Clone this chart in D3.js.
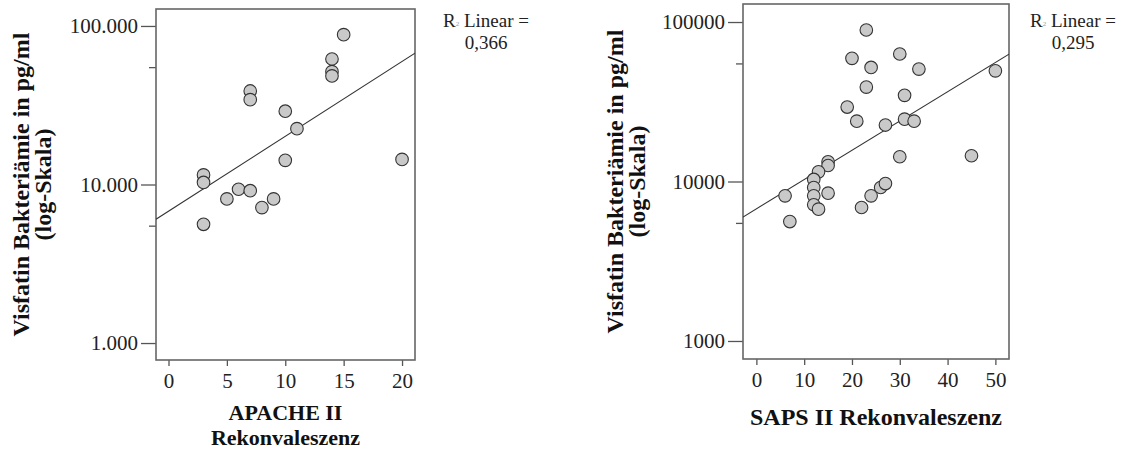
<!DOCTYPE html>
<html>
<head>
<meta charset="utf-8">
<script src="https://cdn.jsdelivr.net/npm/d3@7"></script>
<style>
  body { margin: 0; background: #fff; }
  svg { display: block; font-family: 'Liberation Serif', 'Times New Roman', serif; }
  .tick text { fill: #222; font-family: 'Liberation Serif', 'Times New Roman', serif; }
  .tick line { stroke: #555; stroke-width: 1.3; }
  .frame { fill: none; stroke: #666; stroke-width: 1.6; }
  .fit { stroke: #333; stroke-width: 1.1; fill: none; }
  .dot { fill: #c9c9c9; stroke: #333; stroke-width: 1.1; }
  .title { font-weight: bold; fill: #111; }
</style>
</head>
<body>
<svg width="1129" height="450"></svg>
<script>
// APACHE II Rekonvaleszenz vs. Visfatin (pg/ml)
const apacheX = [15, 14, 14, 14, 7, 7, 10, 11, 10, 20, 3, 3, 6, 7, 5, 9, 8, 3];
const apacheY = [88100, 61900, 51500, 48400, 38900, 34300, 29000, 22500, 14200,
  14400, 11500, 10300, 9330, 9140, 8110, 8110, 7150, 5610];

// SAPS II Rekonvaleszenz vs. Visfatin (pg/ml)
const sapsX = [23, 20, 30, 24, 34, 50, 23, 31, 19, 21, 27, 31, 33, 30, 45, 15, 15, 13,
  12, 12, 12, 12, 13, 6, 7, 15, 22, 24, 26, 27];
const sapsY = [89100, 59200, 63000, 51900, 50700, 49400, 39100, 34700, 29300, 23900,
  22600, 24600, 23900, 14300, 14500, 13300, 12600, 11500, 10300, 9170, 8130, 7150,
  6710, 8130, 5610, 8450, 6870, 8130, 9170, 9710];

const yTicks = [1000, 10000, 100000];
const yMinorTicks = [5500, 55000];
const apacheYLabels = ['1.000', '10.000', '100.000'];
const sapsYLabels = ['1000', '10000', '100000'];
const apacheXTicks = [0, 5, 10, 15, 20];
const sapsXTicks = [0, 10, 20, 30, 40, 50];
const r2Labels = ['0,366', '0,295'];

const svg = d3.select('svg');

function drawPanel(opt) {
  const g = svg.append('g');
  const x = d3.scaleLinear().domain(opt.xDomain).range([opt.left, opt.right]);
  const y = d3.scaleLog().domain(opt.yDomain).range([opt.bottom, opt.top]);

  // y axis, major ticks
  g.append('g')
    .attr('transform', `translate(${opt.left},0)`)
    .call(d3.axisLeft(y).tickValues(yTicks).tickSize(15).tickPadding(3)
      .tickFormat((d, i) => opt.yLabels[i]))
    .call(a => a.select('.domain').remove())
    .attr('font-family', null)
    .selectAll('text').style('font-size', '21px');

  // y axis, minor ticks
  g.append('g')
    .attr('transform', `translate(${opt.left},0)`)
    .call(d3.axisLeft(y).tickValues(yMinorTicks).tickSize(7).tickFormat(''))
    .call(a => a.select('.domain').remove());

  // x axis
  g.append('g')
    .attr('transform', `translate(0,${opt.bottom})`)
    .call(d3.axisBottom(x).tickValues(opt.xTicks).tickSize(6).tickPadding(7))
    .call(a => a.select('.domain').remove())
    .attr('font-family', null)
    .selectAll('text').style('font-size', '21px');

  g.append('rect')
    .attr('class', 'frame')
    .attr('x', opt.left)
    .attr('y', opt.top)
    .attr('width', opt.right - opt.left)
    .attr('height', opt.bottom - opt.top);

  // least squares fit in log space
  const ly = opt.ys.map(v => Math.log10(v));
  const mx = d3.mean(opt.xs), my = d3.mean(ly);
  const sxy = d3.sum(opt.xs, (v, i) => (v - mx) * (ly[i] - my));
  const sxx = d3.sum(opt.xs, v => (v - mx) * (v - mx));
  const b = sxy / sxx;
  const a0 = my - b * mx;

  const clipId = 'clip' + opt.id;
  g.append('clipPath').attr('id', clipId)
    .append('rect')
    .attr('x', opt.left).attr('y', opt.top)
    .attr('width', opt.right - opt.left).attr('height', opt.bottom - opt.top);

  g.append('line')
    .attr('class', 'fit')
    .attr('clip-path', `url(#${clipId})`)
    .attr('x1', x(opt.xDomain[0]))
    .attr('y1', y(Math.pow(10, a0 + b * opt.xDomain[0])))
    .attr('x2', x(opt.xDomain[1]))
    .attr('y2', y(Math.pow(10, a0 + b * opt.xDomain[1])));

  g.selectAll('.dot')
    .data(opt.xs.map((v, i) => [v, opt.ys[i]]))
    .enter()
    .append('circle')
    .attr('class', 'dot')
    .attr('cx', d => x(d[0]))
    .attr('cy', d => y(d[1]))
    .attr('r', 6.3);

  // axis titles
  const cy = (opt.top + opt.bottom) / 2;
  const yt = g.append('text')
    .attr('class', 'title')
    .attr('transform', `translate(${opt.yTitleX},${cy}) rotate(-90)`)
    .attr('text-anchor', 'middle')
    .style('font-size', '24px');
  yt.append('tspan').attr('x', 0).attr('y', 0).text('Visfatin Bakteriämie in pg/ml');
  yt.append('tspan').attr('x', 0).attr('y', 22).text('(log-Skala)');

  // one text per line so the stacked title keeps its own line box
  opt.xTitle.forEach((t, i) => {
    g.append('text')
      .attr('class', 'title')
      .attr('text-anchor', 'middle')
      .style('font-size', opt.xTitleSize + 'px')
      .attr('x', (opt.left + opt.right) / 2)
      .attr('y', opt.xTitleY + i * 25)
      .text(t);
  });

  // R² annotation
  const r2 = g.append('text')
    .attr('text-anchor', 'middle')
    .style('font-size', '19px')
    .attr('fill', '#222');
  const l1 = r2.append('tspan').attr('x', opt.r2X).attr('y', 27);
  l1.append('tspan').text('R');
  l1.append('tspan').style('font-size', '7px').attr('fill', '#999').attr('dy', -1).text('2');
  l1.append('tspan').attr('dy', 1).text(' Linear =');
  r2.append('tspan').attr('x', opt.r2X).attr('y', 49).text(opt.r2);
}

drawPanel({
  id: 'a',
  xs: apacheX, ys: apacheY,
  left: 156, right: 415, top: 9, bottom: 360,
  xDomain: [-1.07, 21.11],
  yDomain: [Math.pow(10, 2.893), Math.pow(10, 5.107)],
  xTicks: apacheXTicks,
  yLabels: apacheYLabels,
  yTitleX: 29,
  xTitle: ['APACHE II', 'Rekonvaleszenz'],
  xTitleY: 420,
  xTitleSize: 22,
  r2X: 486, r2: r2Labels[0]
});

drawPanel({
  id: 'b',
  xs: sapsX, ys: sapsY,
  left: 743, right: 1009, top: 4, bottom: 359,
  xDomain: [-2.8, 52.85],
  yDomain: [Math.pow(10, 2.887), Math.pow(10, 5.113)],
  xTicks: sapsXTicks,
  yLabels: sapsYLabels,
  yTitleX: 623,
  xTitle: ['SAPS II Rekonvaleszenz'],
  xTitleY: 425,
  xTitleSize: 24,
  r2X: 1073, r2: r2Labels[1]
});
</script>
</body>
</html>
